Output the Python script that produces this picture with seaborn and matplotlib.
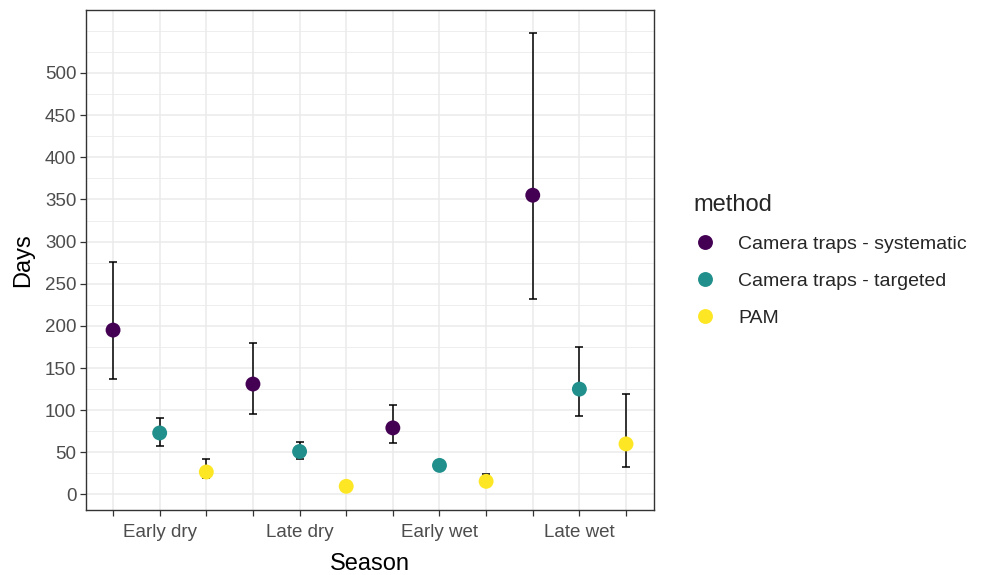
import numpy as np
import pandas as pd
import matplotlib
matplotlib.use("Agg")
import matplotlib.pyplot as plt
import seaborn as sns

seasons = ["Early dry", "Late dry", "Early wet", "Late wet"]
methods = ["Camera traps - systematic", "Camera traps - targeted", "PAM"]
colors = ["#440154", "#21908C", "#FDE725"]

# values per season (rows) for each method
sys_mean = [195, 131, 79, 355]
sys_lo = [137, 96, 61.5, 231.5]
sys_hi = [276, 179.5, 106, 548]

tar_mean = [73, 51, 34.5, 125]
tar_lo = [58, 42.5, 32, 93]
tar_hi = [90.5, 62, 37, 175]

pam_mean = [26.7, 9.7, 15.6, 60]
pam_lo = [19.2, 8, 12, 32.6]
pam_hi = [42, 11.5, 24, 119.6]

rows = []
for si, s in enumerate(seasons):
    for mi, (m, mean, lo, hi) in enumerate(zip(methods,
                                               [sys_mean, tar_mean, pam_mean],
                                               [sys_lo, tar_lo, pam_lo],
                                               [sys_hi, tar_hi, pam_hi])):
        rows.append(dict(season=s, method=m, pos=si * 3 + mi + 1,
                         days=mean[si], lo=lo[si], hi=hi[si]))
df = pd.DataFrame(rows)

sns.set_theme(style="white")
plt.rcParams["font.family"] = ["Liberation Sans", "DejaVu Sans"]

fig = plt.figure(figsize=(9.81, 5.75), dpi=100)
ax = fig.add_axes([86 / 981, 1 - 510 / 575, (654 - 86) / 981, (510 - 10) / 575])

# gridlines
for v in np.arange(0, 551, 25):
    major = (v % 50 == 0) and v <= 500
    ax.axhline(v, color="#EBEBEB", lw=1.1 if major else 0.6, zorder=0)
for p in range(1, 13):
    ax.axvline(p, color="#EBEBEB", lw=1.1, zorder=0)

ax.errorbar(df["pos"], df["days"],
            yerr=[df["days"] - df["lo"], df["hi"] - df["days"]],
            fmt="none", ecolor="black", elinewidth=1.1, capsize=3.2,
            capthick=1.1, zorder=2)

sns.scatterplot(data=df, x="pos", y="days", hue="method", hue_order=methods,
                palette=colors, s=115, linewidth=0, ax=ax, zorder=3,
                legend=True)

ax.set_xlim(0.42, 12.6)
ax.set_ylim(-18.4, 574.7)
ax.set_yticks(np.arange(0, 501, 50))
ax.set_xticks(range(1, 13))
labels = []
for p in range(1, 13):
    labels.append(seasons[(p - 1) // 3] if (p - 2) % 3 == 0 else "")
ax.set_xticklabels(labels)
ax.tick_params(axis="both", which="major", length=4, width=0.9,
               color="#333333", labelcolor="#4D4D4D", labelsize=13.5,
               bottom=True, left=True, pad=3)
ax.tick_params(axis="x", pad=6)
for sp in ax.spines.values():
    sp.set_color("#333333")
    sp.set_linewidth(1.0)

ax.set_xlabel("Season", fontsize=17, color="black", labelpad=9)
ax.set_ylabel("Days", fontsize=17, color="black", labelpad=8)

handles, lbls = ax.get_legend_handles_labels()
ax.legend_.remove()
leg = fig.legend(handles, lbls, title="method", loc="upper left",
                 bbox_to_anchor=(693 / 981, 1 - 194 / 575), frameon=False,
                 borderaxespad=0, borderpad=0,
                 fontsize=14, title_fontsize=17, alignment="left",
                 labelspacing=1.0, handletextpad=1.12, markerscale=1.0,
                 handlelength=1.2)
leg._legend_box.sep = 14

fig.savefig("out.png", dpi=100)
